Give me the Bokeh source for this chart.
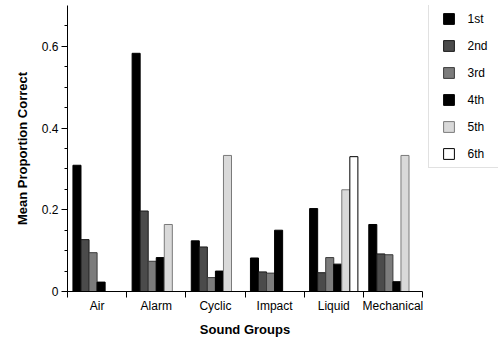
import numpy as np
from bokeh.plotting import figure
from bokeh.layouts import row
from bokeh.models import (ColumnDataSource, FixedTicker, Range1d, Legend, LegendItem,
                          CustomJSTickFormatter)
from bokeh.transform import dodge
from bokeh.embed import file_html
from bokeh.resources import INLINE

categories = ["Air", "Alarm", "Cyclic", "Impact", "Liquid", "Mechanical"]
series = ["1st", "2nd", "3rd", "4th", "5th", "6th"]
v1st = [0.309, 0.583, 0.124, 0.082, 0.203, 0.164]
v2nd = [0.127, 0.197, 0.109, 0.048, 0.046, 0.092]
v3rd = [0.095, 0.074, 0.034, 0.045, 0.083, 0.090]
v4th = [0.023, 0.083, 0.050, 0.150, 0.067, 0.024]
v5th = [0.000, 0.164, 0.333, 0.000, 0.249, 0.333]
v6th = [0.000, 0.000, 0.000, 0.000, 0.330, 0.000]
y_ticks = [0, 0.2, 0.4, 0.6]

values = [v1st, v2nd, v3rd, v4th, v5th, v6th]
fills = ["#000000", "#4b4b4b", "#7c7c7c", "#000000", "#d9d9d9", "#ffffff"]
lines = ["#000000", "#1a1a1a", "#3a3a3a", "#000000", "#7a7a7a", "#000000"]

FONT = "Liberation Sans"

n = len(categories)
xc = [i + 0.5 for i in range(n)]
data = {"x": xc}
for s, v in zip(series, values):
    data[s] = v
src = ColumnDataSource(data)

p = figure(width=427, height=339, output_backend="svg", toolbar_location=None,
           x_range=Range1d(0, n), y_range=Range1d(0, 0.7),
           min_border_left=67, min_border_right=5, min_border_top=5, min_border_bottom=48)
p.outline_line_color = None
p.background_fill_color = "white"
p.border_fill_color = "white"
p.xgrid.visible = False
p.ygrid.visible = False

bw = 0.136
for j, s in enumerate(series):
    p.vbar(x=dodge("x", (j - 2.5) * bw, range=p.x_range), top=s, bottom=0, width=bw,
           source=src, fill_color=fills[j], line_color=lines[j], line_width=1)

# x axis: boundary ticks as minor ticks, labels at category centers
xa = p.xaxis[0]
xa.ticker = FixedTicker(ticks=xc, minor_ticks=list(range(n + 1)))
xa.major_label_overrides = {x: c for x, c in zip(xc, categories)}
xa.major_tick_out = 0
xa.major_tick_in = 0
xa.minor_tick_out = 6
xa.minor_tick_in = 0
xa.minor_tick_line_color = "#000000"
xa.axis_line_color = "#000000"
xa.major_label_text_font = FONT
xa.major_label_text_font_size = "12px"
xa.major_label_text_color = "#000000"
xa.major_label_standoff = 1
xa.axis_label = "Sound Groups"
xa.axis_label_text_font = FONT
xa.axis_label_text_font_size = "13px"
xa.axis_label_text_font_style = "bold"
xa.axis_label_text_color = "#000000"
xa.axis_label_standoff = 6

ya = p.yaxis[0]
ya.ticker = FixedTicker(ticks=y_ticks, minor_ticks=[k * 0.05 for k in range(15)])
ya.formatter = CustomJSTickFormatter(code="return tick == 0 ? '0' : tick.toFixed(1);")
ya.major_tick_out = 6
ya.major_tick_in = 0
ya.minor_tick_out = 3
ya.minor_tick_in = 0
ya.major_label_text_font = FONT
ya.major_label_text_font_size = "12px"
ya.major_label_text_color = "#000000"
ya.major_label_standoff = 3
ya.axis_label = "Mean Proportion Correct"
ya.axis_label_text_font = FONT
ya.axis_label_text_font_size = "13px"
ya.axis_label_text_font_style = "bold"
ya.axis_label_text_color = "#000000"
ya.axis_label_standoff = 9

# legend panel (keys only; their single NaN point is never drawn)
q = figure(width=71, height=339, output_backend="svg", toolbar_location=None,
           x_range=Range1d(0, 1), y_range=Range1d(0, 1),
           x_axis_location=None, y_axis_location=None,
           min_border_left=0, min_border_right=0, min_border_top=0, min_border_bottom=0)
q.outline_line_color = None
q.xgrid.visible = False
q.ygrid.visible = False
q.background_fill_color = "white"
q.border_fill_color = "white"

items = []
for j, s in enumerate(series):
    key = q.scatter(x=np.array([np.nan]), y=np.array([np.nan]), marker="square",
                    fill_color=fills[j], line_color=lines[j], line_width=1)
    items.append(LegendItem(label=s, renderers=[key]))

legend = Legend(items=items, location=(0.5, 122.7), orientation="vertical",
                padding=0, spacing=0, glyph_width=39, glyph_height=27,
                label_height=12, label_width=60, label_standoff=0, margin=0,
                label_text_font=FONT, label_text_font_size="12px",
                label_text_color="#000000",
                border_line_color="#c4c4c4", border_line_width=1,
                background_fill_color="white", background_fill_alpha=1)
q.add_layout(legend, "center")

open("out.html", "w").write(file_html(row(p, q), INLINE))
